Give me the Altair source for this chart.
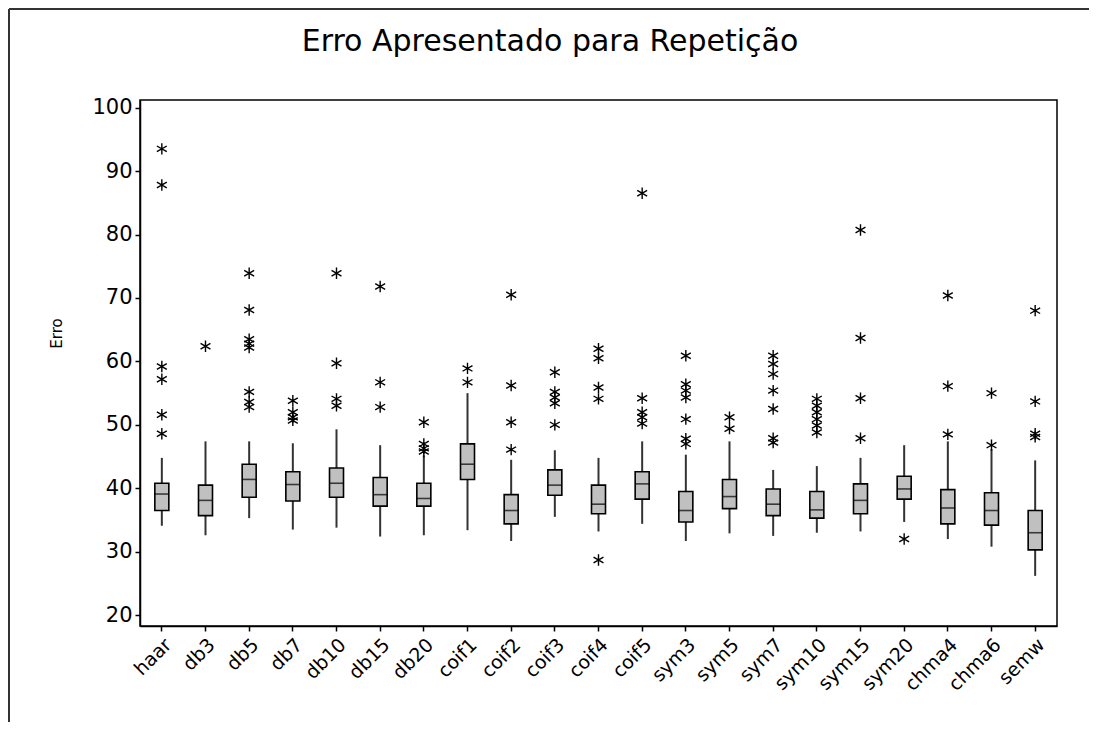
import altair as alt
import pandas as pd

cats = ["haar", "db3", "db5", "db7", "db10", "db15", "db20", "coif1", "coif2", "coif3",
        "coif4", "coif5", "sym3", "sym5", "sym7", "sym10", "sym15", "sym20", "chma4", "chma6", "semw"]

whisker_low = [34.1, 32.6, 35.3, 33.5, 33.8, 32.4, 32.6, 33.4, 31.7, 35.5,
               33.2, 34.4, 31.7, 32.9, 32.5, 33.0, 33.2, 34.7, 32.0, 30.8, 26.2]
q1 = [36.5, 35.7, 38.6, 38.0, 38.6, 37.2, 37.2, 41.4, 34.4, 38.9,
      36.0, 38.3, 34.7, 36.8, 35.7, 35.3, 36.0, 38.3, 34.4, 34.2, 30.3]
median = [39.1, 38.1, 41.4, 40.6, 40.8, 39.0, 38.4, 43.8, 36.5, 40.5,
          37.5, 40.7, 36.5, 38.7, 37.5, 36.6, 38.1, 39.9, 36.9, 36.5, 33.0]
q3 = [40.8, 40.5, 43.8, 42.6, 43.2, 41.7, 40.8, 47.0, 39.0, 42.9,
      40.5, 42.6, 39.5, 41.4, 39.9, 39.5, 40.7, 41.9, 39.8, 39.3, 36.5]
whisker_high = [44.8, 47.4, 47.4, 47.1, 49.3, 46.8, 45.2, 55.0, 44.5, 46.0,
                44.8, 47.4, 45.3, 47.4, 42.9, 43.5, 44.8, 46.8, 47.4, 46.2, 44.4]

outliers = [
    [93.5, 87.8, 59.2, 57.2, 51.6, 48.6],            # haar
    [62.4],                                          # db3
    [73.9, 68.1, 63.5, 62.8, 62.2, 55.2, 53.6, 52.8],  # db5
    [53.8, 52.0, 51.2, 50.7],                        # db7
    [73.9, 59.7, 54.1, 53.0],                        # db10
    [71.8, 56.7, 52.8],                              # db15
    [50.4, 47.0, 46.3, 45.8],                        # db20
    [58.9, 56.7],                                    # coif1
    [70.5, 56.2, 50.4, 46.1],                        # coif2
    [58.3, 55.2, 54.3, 53.4, 50.0],                  # coif3
    [62.0, 60.5, 55.9, 54.1, 28.7],                  # coif4
    [86.5, 54.2, 52.0, 51.2, 50.2],                  # coif5
    [60.9, 56.4, 55.4, 54.3, 50.9, 47.8, 47.0],      # sym3
    [51.2, 49.4],                                    # sym5
    [60.9, 59.6, 58.0, 55.4, 52.5, 47.9, 47.2],      # sym7
    [54.1, 53.0, 52.0, 50.9, 49.9, 48.8],            # sym10
    [80.7, 63.7, 54.2, 47.9],                        # sym15
    [32.0],                                          # sym20
    [70.4, 56.1, 48.5],                              # chma4
    [55.0, 46.8],                                    # chma6
    [68.0, 53.7, 48.6, 48.1],                        # semw
]

y_ticks = [20, 30, 40, 50, 60, 70, 80, 90, 100]
title_text = "Erro Apresentado para Repetição"

summary = pd.DataFrame({
    "cat": cats, "lo": whisker_low, "q1": q1, "med": median, "q3": q3, "hi": whisker_high,
})
out_df = pd.DataFrame(
    [{"cat": c, "v": v} for c, vals in zip(cats, outliers) for v in vals]
)

xenc = alt.X("cat:N", sort=cats, title=None,
             scale=alt.Scale(paddingInner=0, paddingOuter=0),
             axis=alt.Axis(labelAngle=-45, labelFontSize=19, labelFont="DejaVu Sans",
                           labelColor="black", tickColor="black", tickSize=5,
                           domainColor="black", domainWidth=1.5, tickWidth=1.5,
                           labelPadding=4))
yscale = alt.Scale(domain=[18.3, 101.2], nice=False, zero=False)
yaxis = alt.Axis(values=y_ticks, title="Erro", titleFontSize=15, titleFontWeight="normal",
                 titleFont="DejaVu Sans", titleColor="black", titleX=-76, titleY=233,
                 labelFontSize=21, labelFont="DejaVu Sans", labelColor="black",
                 tickColor="black", tickSize=5, tickWidth=1.5, domainColor="black",
                 domainWidth=1.5, grid=False, labelPadding=3)

base = alt.Chart(summary)

whisk = base.mark_rule(color="#333333", strokeWidth=2).encode(
    x=xenc, y=alt.Y("lo:Q", scale=yscale, axis=yaxis), y2="hi:Q")
box = base.mark_bar(size=14, fill="#c0c0c0", stroke="black", strokeWidth=1.6).encode(
    x=alt.X("cat:N", sort=cats), y=alt.Y("q1:Q", scale=yscale), y2="q3:Q")
med = base.mark_tick(size=14, thickness=1.6, color="black").encode(
    x=alt.X("cat:N", sort=cats), y=alt.Y("med:Q", scale=yscale))

star = "M0,-1L0,1M-0.87,-0.5L0.87,0.5M-0.87,0.5L0.87,-0.5"
pts = alt.Chart(out_df).mark_point(shape=star, size=130, filled=False, color="black",
                                   strokeWidth=1.4, opacity=1).encode(
    x=alt.X("cat:N", sort=cats), y=alt.Y("v:Q", scale=yscale))

one = alt.Chart(pd.DataFrame({"t": [title_text]}))
frame_top = one.mark_rule(color="#333333", strokeWidth=2).encode(
    x=alt.value(-131), x2=alt.value(1000), y=alt.value(-91))
frame_left = one.mark_rule(color="#333333", strokeWidth=2).encode(
    x=alt.value(-131), y=alt.value(-91), y2=alt.value(700))
title = one.mark_text(font="DejaVu Sans", fontSize=30, color="black", align="center",
                      baseline="alphabetic").encode(
    text="t:N", x=alt.value(410), y=alt.value(-49))

chart = alt.layer(frame_top, frame_left, title, whisk, box, med, pts).properties(
    width=917, height=526,
    background="white",
    autosize=alt.AutoSizeParams(type="none"),
    padding={"left": 132, "top": 92, "right": 32, "bottom": 96},
).configure_view(stroke="black", strokeWidth=1.5)

chart.save("out.html", embed_options={"renderer": "svg", "actions": False})
